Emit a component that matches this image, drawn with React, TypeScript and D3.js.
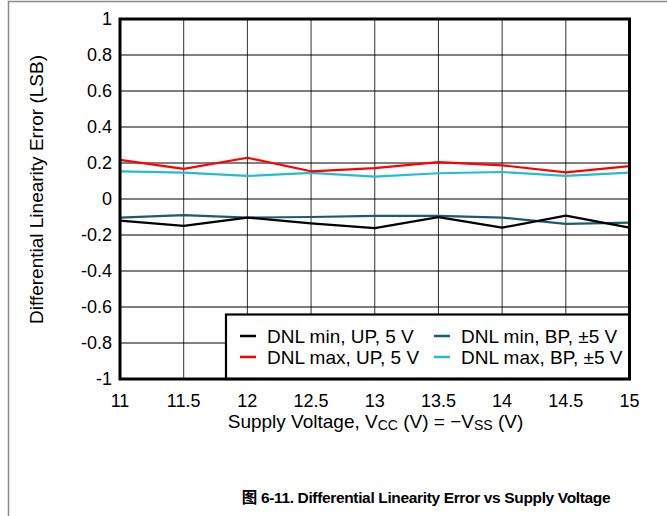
import React from "react";
import * as d3 from "d3";

const supplyVoltage = [11, 11.5, 12, 12.5, 13, 13.5, 14, 14.5, 15];
const dnlMinUP = [-0.12, -0.149, -0.103, -0.135, -0.162, -0.101, -0.159, -0.092, -0.159];
const dnlMaxUP = [0.217, 0.167, 0.229, 0.154, 0.172, 0.205, 0.187, 0.148, 0.183];
const dnlMinBP = [-0.103, -0.09, -0.103, -0.1, -0.094, -0.094, -0.103, -0.138, -0.131];
const dnlMaxBP = [0.154, 0.147, 0.128, 0.145, 0.124, 0.143, 0.15, 0.128, 0.147];
const xTicks = [11, 11.5, 12, 12.5, 13, 13.5, 14, 14.5, 15];
const yTicks = [-1, -0.8, -0.6, -0.4, -0.2, 0, 0.2, 0.4, 0.6, 0.8, 1];
const seriesNames = ["DNL min, UP, 5 V", "DNL max, UP, 5 V", "DNL min, BP, \u00b15 V", "DNL max, BP, \u00b15 V"];
const seriesColors = ["#000000", "#ff0000", "#1b5b6e", "#1fbfcf"];

const FONT = "'Liberation Sans', Arial, Helvetica, sans-serif";

export default function App() {
  const W = 667, H = 516;
  const x = d3.scaleLinear().domain([11, 15]).range([120, 629.5]);
  const y = d3.scaleLinear().domain([-1, 1]).range([379, 19]);
  const series = [dnlMinUP, dnlMaxUP, dnlMinBP, dnlMaxBP];
  const line = d3
    .line<number>()
    .x((_, i) => x(supplyVoltage[i]))
    .y((d) => y(d));

  const drawOrder = [3, 2, 1, 0];

  const legendX = 226;
  const legendY = 314.5;
  const legendRows = [
    { idx: 0, col: 0, row: 0 },
    { idx: 2, col: 1, row: 0 },
    { idx: 1, col: 0, row: 1 },
    { idx: 3, col: 1, row: 1 },
  ];
  const colX = [240, 434];
  const rowY = [336, 357];

  return (
    <svg
      width={W}
      height={H}
      style={{ position: "absolute", left: 0, top: 0, background: "#fff" }}
      fontFamily={FONT}
    >
      <rect x={0} y={0} width={W} height={H} fill="#fff" />
      <rect x={8.5} y={1.5} width={W + 20} height={H + 20} fill="none" stroke="#8c8c8c" strokeWidth={1.5} />

      {xTicks.map((t) => (
        <line key={"gx" + t} x1={x(t)} x2={x(t)} y1={y(1)} y2={y(-1)} stroke="#333" strokeWidth={1} />
      ))}
      {yTicks.map((t) => (
        <line key={"gy" + t} x1={x(11)} x2={x(15)} y1={y(t)} y2={y(t)} stroke="#000" strokeWidth={1} />
      ))}

      {drawOrder.map((i) => (
        <path key={"s" + i} d={line(series[i]) || ""} fill="none" stroke={seriesColors[i]} strokeWidth={2.2} strokeLinejoin="round" />
      ))}

      <rect
        x={legendX}
        y={legendY}
        width={x(15) - legendX}
        height={y(-1) - legendY}
        fill="#fff"
        stroke="#000"
        strokeWidth={2.2}
      />
      {legendRows.map((r) => (
        <g key={"lg" + r.idx}>
          <line x1={colX[r.col]} x2={colX[r.col] + 16} y1={rowY[r.row]} y2={rowY[r.row]} stroke={seriesColors[r.idx]} strokeWidth={2.5} />
          <text x={colX[r.col] + 27} y={rowY[r.row]} dy="0.36em" fontSize={19}>
            {seriesNames[r.idx]}
          </text>
        </g>
      ))}

      <rect x={x(11)} y={y(1)} width={x(15) - x(11)} height={y(-1) - y(1)} fill="none" stroke="#000" strokeWidth={3} />

      {yTicks.map((t) => (
        <text key={"yl" + t} x={112} y={y(t)} dy="0.36em" textAnchor="end" fontSize={18}>
          {t === 0 ? "0" : String(t)}
        </text>
      ))}
      {xTicks.map((t) => (
        <text key={"xl" + t} x={x(t)} y={407} textAnchor="middle" fontSize={18}>
          {String(t)}
        </text>
      ))}

      <text x={375.5} y={428} textAnchor="middle" fontSize={19}>
        Supply Voltage, V<tspan fontSize={14} dy={2}>CC</tspan>
        <tspan dy={-2}> (V) = {"\u2212"}V</tspan>
        <tspan fontSize={14} dy={2}>SS</tspan>
        <tspan dy={-2}> (V)</tspan>
      </text>
      <text transform={`translate(43,${189.5}) rotate(-90)`} textAnchor="middle" fontSize={19}>
        Differential Linearity Error (LSB)
      </text>

      <text x={426} y={503} textAnchor="middle" fontSize={15.5} fontWeight="bold" letterSpacing={-0.35}>
        <tspan fontFamily="'Noto Sans CJK SC', sans-serif">图</tspan> 6-11. Differential Linearity Error vs Supply Voltage
      </text>
    </svg>
  );
}
